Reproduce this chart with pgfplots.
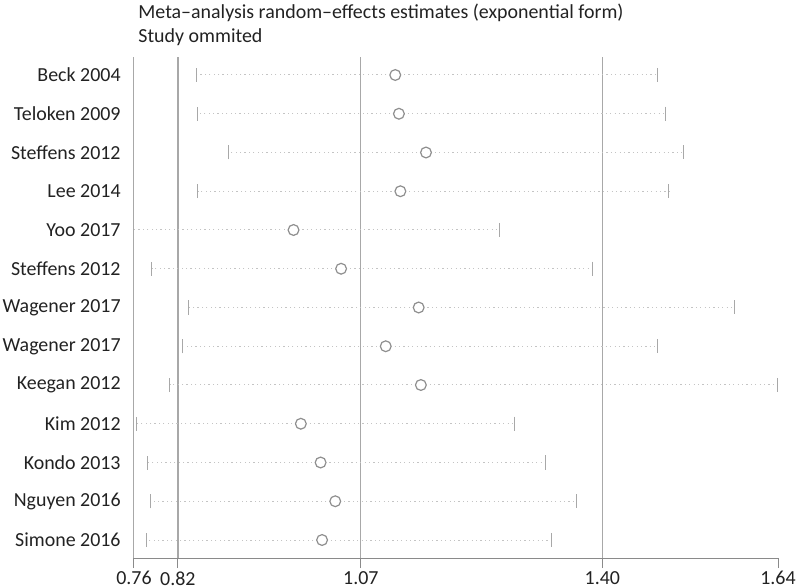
\documentclass[border=0pt]{standalone}
\usepackage{pgfplots}
\pgfplotsset{compat=1.18}
\usepackage{pgfplotstable}
\usepackage{fontspec}
\setmainfont{Carlito}
\definecolor{refline}{HTML}{A8A8A8}
\definecolor{dotline}{HTML}{C4C4C4}
\definecolor{markgray}{HTML}{8F8F8F}
\definecolor{axisgray}{HTML}{8A8A8A}
\definecolor{txt}{HTML}{222222}

% y: 13 = top row (Beck 2004) ... 1 = bottom row (Simone 2016)
\pgfplotstableread{
y  est   lo    hi
13 1.117 0.845 1.475
12 1.122 0.847 1.486
11 1.159 0.889 1.511
10 1.124 0.847 1.491
9  0.978 0.740 1.259
8  1.043 0.784 1.387
7  1.149 0.835 1.581
6  1.104 0.826 1.476
5  1.152 0.809 1.639
4  0.988 0.763 1.280
3  1.015 0.779 1.322
2  1.035 0.783 1.365
1  1.017 0.777 1.331
}\studies

\begin{document}
\begin{tikzpicture}[font=\fontsize{10}{12}\selectfont, text=txt]
\begin{axis}[
  scale only axis,
  width=322bp, height=250.5bp,
  xmin=0.76, xmax=1.64,
  ymin=0.5355, ymax=13.4645,
  axis x line=bottom, axis y line=left,
  axis line style={-, draw=axisgray, line width=0.5bp},
  y axis line style={draw=refline},
  xtick={0.76,0.82,1.07,1.40,1.64},
  xticklabels={0.76,0.82,1.07,1.40,1.64},
  ytick={1,...,13},
  yticklabels={Simone 2016, Nguyen 2016, Kondo 2013, Kim 2012, Keegan 2012,
    Wagener 2017, Wagener 2017, Steffens 2012, Yoo 2017, Lee 2014,
    Steffens 2012, Teloken 2009, Beck 2004},
  tick align=outside,
  major tick length=5bp,
  x tick style={draw=axisgray, line width=0.5bp},
  y tick style={draw=none},
  x tick label style={inner sep=0pt, yshift=-1.5bp},
  y tick label style={anchor=east, inner sep=0pt, xshift=-1.5bp},
]
\coordinate (bl) at (axis description cs:0,0);
\coordinate (tl) at (axis description cs:0,1);
\coordinate (tr) at (axis description cs:1,1);

\draw[refline, line width=0.6bp] (axis cs:0.82,0.5355) -- (axis cs:0.82,13.4645);
\draw[refline, line width=0.6bp] (axis cs:1.07,0.5355) -- (axis cs:1.07,13.4645);
\draw[refline, line width=0.6bp] (axis cs:1.40,0.5355) -- (axis cs:1.40,13.4645);

\addplot[
  only marks, mark=*, mark size=2.7bp,
  mark options={draw=markgray, fill=white, line width=0.6bp, solid},
  error bars/.cd,
    x dir=both, x explicit,
    error bar style={dotline, line width=0.5bp, dash pattern=on 0.6bp off 1.6bp},
    error mark=|,
    error mark options={refline, solid, line width=0.5bp, mark size=3.5bp},
] table[x=est, y=y,
  x error plus expr=\thisrow{hi}-\thisrow{est},
  x error minus expr=\thisrow{est}-\thisrow{lo}] {\studies};
\end{axis}

\node[anchor=base west, inner sep=0pt] at ([shift={(2bp,19bp)}]tl)
  {Meta--analysis random--effects estimates (exponential form)};
\node[anchor=base west, inner sep=0pt] at ([shift={(2bp,7bp)}]tl)
  {Study ommited};

\pgfresetboundingbox
\path[use as bounding box] ([shift={(-67bp,-15bp)}]bl) rectangle ([shift={(11bp,28.5bp)}]tr);
\end{tikzpicture}
\end{document}
